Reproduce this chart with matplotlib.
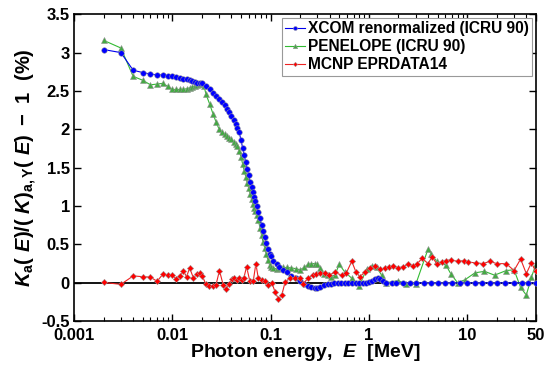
import matplotlib
matplotlib.use("Agg")
import matplotlib.pyplot as plt
from matplotlib.ticker import FuncFormatter, LogLocator, NullFormatter, MultipleLocator

plt.rcParams['font.family'] = 'Liberation Sans'
plt.rcParams['font.weight'] = 'bold'
plt.rcParams['axes.unicode_minus'] = False
plt.rcParams['mathtext.fontset'] = 'custom'
plt.rcParams['mathtext.rm'] = 'Liberation Sans:bold'
plt.rcParams['mathtext.it'] = 'Liberation Sans:italic:bold'
plt.rcParams['mathtext.bf'] = 'Liberation Sans:bold'

# XCOM renormalized (ICRU 90)
e_xcom = [0.002, 0.003, 0.004, 0.005, 0.006, 0.007, 0.008, 0.009, 0.010,
          0.011, 0.012, 0.013, 0.014, 0.015, 0.016, 0.017, 0.018, 0.019, 0.020,
          0.022, 0.024, 0.026, 0.028, 0.030, 0.032, 0.034, 0.036, 0.038, 0.040,
          0.042, 0.044, 0.046, 0.048, 0.050, 0.052, 0.054, 0.056, 0.058, 0.060,
          0.062, 0.064, 0.066, 0.068, 0.070, 0.072, 0.075, 0.078, 0.081, 0.084,
          0.087, 0.090, 0.094, 0.098, 0.100, 0.107, 0.115, 0.123, 0.134, 0.147,
          0.163, 0.18, 0.20, 0.22, 0.24, 0.26, 0.28, 0.30, 0.32, 0.35, 0.38,
          0.41, 0.44, 0.48, 0.52, 0.57, 0.62, 0.68, 0.74, 0.80, 0.87, 0.93,
          1.0, 1.07, 1.15, 1.23, 1.3, 1.4, 1.5, 1.7, 1.9, 2.2, 2.6, 3.0, 3.6,
          4.3, 5.0, 6.0, 7.0, 8.5, 10, 12, 14, 17, 20, 24, 30, 36, 42, 50]
k_xcom = [3.04, 3.00, 2.77, 2.74, 2.72, 2.71, 2.71, 2.70, 2.69,
          2.68, 2.67, 2.66, 2.65, 2.64, 2.63, 2.62, 2.61, 2.61, 2.60,
          2.56, 2.52, 2.48, 2.44, 2.40, 2.36, 2.32, 2.27, 2.22, 2.17,
          2.12, 2.07, 2.02, 1.96, 1.86, 1.76, 1.66, 1.57, 1.48, 1.40,
          1.32, 1.25, 1.18, 1.12, 1.06, 1.00, 0.92, 0.84, 0.76, 0.68,
          0.60, 0.52, 0.44, 0.38, 0.35, 0.29, 0.24, 0.21, 0.165, 0.135,
          0.09, 0.057, 0.02, -0.02, -0.04, -0.06, -0.07, -0.065, -0.05, -0.03, -0.02,
          -0.01, 0.0, 0.0, 0.0, 0.0, 0.0, 0.0, 0.0, 0.0, 0.0, 0.0,
          0.01, 0.03, 0.05, 0.06, 0.05, 0.02, 0.0, 0.0, 0.0, 0.0, 0.0, 0.0, 0.0,
          0.0, 0.0, 0.0, 0.0, 0.0, 0.0, 0.0, 0.0, 0.0, 0.0, 0.0, 0.0, 0.0, 0.0, 0.0]

# PENELOPE (ICRU 90)
e_pen = [0.002, 0.003, 0.004, 0.005, 0.006, 0.007, 0.008, 0.009, 0.010,
         0.011, 0.012, 0.013, 0.014, 0.015, 0.016, 0.017, 0.018, 0.019, 0.020,
         0.021, 0.022, 0.024, 0.026, 0.028, 0.030, 0.032, 0.034, 0.036, 0.038,
         0.040, 0.042, 0.044, 0.046, 0.048, 0.050, 0.052, 0.054, 0.056, 0.058,
         0.060, 0.062, 0.064, 0.066, 0.068, 0.070, 0.072, 0.075, 0.078, 0.081,
         0.084, 0.087, 0.090, 0.094, 0.098, 0.100, 0.107, 0.115, 0.123, 0.134,
         0.147, 0.163, 0.18, 0.20, 0.22, 0.24, 0.26, 0.28, 0.30, 0.32, 0.35,
         0.38, 0.41, 0.45, 0.50, 0.57, 0.67, 0.80, 0.95, 1.07, 1.2, 1.35, 1.5,
         2.0, 2.4, 3.0, 4.0, 4.3, 4.9, 6.1, 6.8, 8.0, 9.5, 12, 15, 19, 25, 30,
         35, 40, 45, 50]
k_pen = [3.16, 3.06, 2.69, 2.64, 2.58, 2.59, 2.60, 2.56, 2.52,
         2.52, 2.52, 2.52, 2.53, 2.54, 2.55, 2.57, 2.58, 2.59, 2.59,
         2.57, 2.46, 2.33, 2.20, 2.09, 2.00, 1.96, 1.94, 1.91, 1.89,
         1.87, 1.84, 1.81, 1.78, 1.72, 1.64, 1.55, 1.46, 1.38, 1.30,
         1.23, 1.16, 1.09, 1.03, 0.98, 0.93, 0.89, 0.82, 0.72, 0.62,
         0.53, 0.46, 0.38, 0.30, 0.23, 0.21, 0.195, 0.18, 0.19, 0.20,
         0.20, 0.195, 0.185, 0.17, 0.20, 0.24, 0.25, 0.25, 0.24, 0.19, 0.12,
         0.10, 0.08, 0.10, 0.24, 0.14, 0.06, -0.04, 0.18, 0.22, 0.20, 0.10, 0.0,
         0.03, -0.02, -0.02, 0.44, 0.38, 0.28, 0.23, 0.12, 0.0, 0.04, 0.13, 0.15, 0.10, 0.16, 0.17,
         -0.06, -0.16, 0.07, 0.24]

# MCNP EPRDATA14
e_mcnp = [0.002, 0.003, 0.004, 0.005, 0.006, 0.007, 0.008, 0.009, 0.010,
          0.011, 0.012, 0.013, 0.014, 0.015, 0.0164, 0.0177, 0.0191, 0.0202,
          0.0220, 0.0238, 0.0258, 0.0278, 0.0302, 0.0330, 0.0352, 0.0381,
          0.0403, 0.0425, 0.0452, 0.0480, 0.0507, 0.0535, 0.0570, 0.0616,
          0.0666, 0.0709, 0.0749, 0.081, 0.0875, 0.0945, 0.103, 0.111, 0.120,
          0.130, 0.141, 0.158, 0.177, 0.198, 0.216, 0.24, 0.27, 0.29, 0.32,
          0.355, 0.39, 0.45, 0.53, 0.59, 0.67, 0.74, 0.81, 0.91, 1.02, 1.15,
          1.3, 1.45, 1.6, 1.77, 2.0, 2.24, 2.5, 2.8, 3.1, 3.5, 4.0, 4.4, 4.9,
          5.5, 6.1, 6.8, 8.0, 9.2, 10.2, 12.4, 14.5, 17, 20, 25, 30, 35, 40,
          45, 50]
k_mcnp = [0.005, -0.02, 0.09, 0.08, 0.075, 0.02, 0.11, 0.10, 0.10,
          0.05, 0.09, 0.15, 0.08, 0.195, 0.065, 0.11, 0.13, 0.09,
          -0.02, -0.04, -0.045, -0.03, 0.16, -0.03, -0.08, -0.02,
          0.05, 0.065, 0.04, 0.065, 0.035, 0.065, 0.21, 0.02,
          0.02, 0.25, 0.065, 0.035, 0.02, -0.03, 0.0, -0.115, -0.21,
          -0.16, 0.015, 0.06, 0.065, 0.065, -0.01, 0.06, 0.10, 0.11, 0.13,
          0.13, 0.10, 0.135, 0.10, 0.13, 0.28, 0.14, 0.08, 0.14, 0.195, 0.22,
          0.18, 0.19, 0.20, 0.22, 0.195, 0.21, 0.24, 0.22, 0.25, 0.32, 0.25, 0.34, 0.25,
          0.27, 0.29, 0.30, 0.28, 0.29, 0.27, 0.26, 0.25, 0.28, 0.25, 0.25, 0.16, 0.31, 0.12,
          0.26, 0.15]

fig = plt.figure(figsize=(5.44, 3.65), dpi=100)
ax = fig.add_axes([0.136, 0.12, 0.849, 0.841])

ax.axhline(0, color='black', linewidth=1.3, zorder=1)

ax.plot(e_xcom, k_xcom, color='#0000ee', linewidth=0.8, marker='o', markersize=4,
        markerfacecolor='#0000ff', markeredgecolor='#9090a0', markeredgewidth=0.4,
        label='XCOM renormalized (ICRU 90)', zorder=3)
ax.plot(e_pen, k_pen, color='#33bb33', linewidth=0.8, marker='^', markersize=4.5,
        markerfacecolor='#44aa44', markeredgecolor='#909090', markeredgewidth=0.4,
        label='PENELOPE (ICRU 90)', zorder=2)
ax.plot(e_mcnp, k_mcnp, color='#ee2222', linewidth=0.8, marker='D', markersize=3.2,
        markerfacecolor='#ff0000', markeredgecolor='#a09090', markeredgewidth=0.4,
        label='MCNP EPRDATA14', zorder=4)

ax.set_xscale('log')
ax.set_xlim(0.001, 50)
ax.set_ylim(-0.5, 3.5)

xticks = [0.001, 0.01, 0.1, 1, 10, 50]
xlabels = ['0.001', '0.01', '0.1', '1', '10', '50']
ax.set_xticks(xticks)
ax.set_xticklabels(xlabels)
ax.xaxis.set_minor_locator(LogLocator(base=10, subs=range(2, 10), numticks=20))
ax.xaxis.set_minor_formatter(NullFormatter())
ax.yaxis.set_major_locator(MultipleLocator(0.5))
ax.yaxis.set_major_formatter(FuncFormatter(lambda v, p: '%g' % v))

ax.tick_params(which='both', direction='in', top=True, right=True, labelsize=12)
ax.tick_params(which='major', length=5, width=1)
ax.tick_params(which='minor', length=3, width=0.8)
ax.tick_params(axis='x', pad=5)
ax.tick_params(axis='y', pad=3)
for s in ax.spines.values():
    s.set_linewidth(1.2)

ax.set_xlabel(r'Photon energy,  $E$  [MeV]', fontsize=14, fontweight='bold', labelpad=-1)
ax.set_ylabel(r'$K_{\mathrm{a}}\mathrm{(}\ E\mathrm{)/(}\ K\mathrm{)}_{\mathrm{a,Y}}\mathrm{(}\ E\mathrm{)\ -\ 1\ \ (\%)}$',
              fontsize=14.5, labelpad=2)

leg = ax.legend(loc='upper right', bbox_to_anchor=(1.0, 1.0), borderaxespad=0.25,
                fontsize=11.2, handlelength=1.3, handletextpad=0.2, labelspacing=0.2,
                borderpad=0.2, fancybox=False, framealpha=1, edgecolor='#999999',
                markerscale=0.7)
leg.get_frame().set_linewidth(0.8)

fig.savefig('out.png', dpi=100)
